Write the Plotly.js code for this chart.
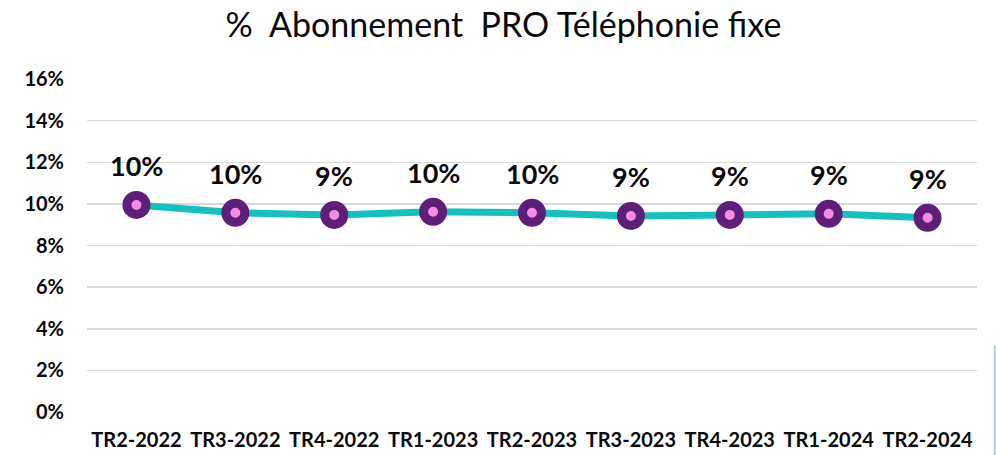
<!DOCTYPE html>
<html>
<head>
<meta charset="utf-8">
<script src="https://cdn.plot.ly/plotly-3.0.1.min.js"></script>
<style>html,body{margin:0;padding:0;background:#fff;}#chart{width:997px;height:455px;}</style>
</head>
<body>
<div id="chart"></div>
<script>
const categories = ["TR2-2022","TR3-2022","TR4-2022","TR1-2023","TR2-2023","TR3-2023","TR4-2023","TR1-2024","TR2-2024"];
const values = [9.95, 9.57, 9.47, 9.62, 9.57, 9.42, 9.47, 9.52, 9.33];
const valueLabels = ["10%","10%","9%","10%","10%","9%","9%","9%","9%"];
const yTickValues = [0,2,4,6,8,10,12,14,16];
const yTickLabels = ["0%","2%","4%","6%","8%","10%","12%","14%","16%"];

const fontFam = "Lato, 'Open Sans', sans-serif";

const trace = {
  x: categories,
  y: values,
  type: "scatter",
  mode: "lines+markers",
  line: {color: "#14C1BF", width: 7},
  marker: {size: 19, color: "#F58BE3", line: {color: "#5E1F79", width: 9}},
  cliponaxis: false,
  hoverinfo: "skip"
};

const annotations = categories.map((c, i) => ({
  x: c, y: values[i], xref: "x", yref: "y",
  text: valueLabels[i], showarrow: false,
  yanchor: "middle", xanchor: "center", yshift: 39,
  font: {family: fontFam, size: 27, color: "#0a0a0a", weight: 700}
}));

const layout = {
  width: 997, height: 455,
  margin: {l: 87, r: 20, t: 79, b: 43},
  paper_bgcolor: "#ffffff",
  plot_bgcolor: "#ffffff",
  showlegend: false,
  title: {text: "%  Abonnement  PRO Téléphonie fixe", x: 0.505, xanchor: "center", y: 0.945, yanchor: "middle",
          font: {family: fontFam, size: 34, color: "#0a0a0a"}},
  xaxis: {
    type: "category",
    range: [-0.5, 8.5],
    showgrid: false, zeroline: false, showline: false, ticks: "",
    tickfont: {family: fontFam, size: 20, color: "#0a0a0a", weight: 700},
    ticklabelstandoff: 14,
    fixedrange: true
  },
  yaxis: {
    range: [0, 16],
    tickvals: yTickValues, ticktext: yTickLabels,
    showgrid: true, gridcolor: "#d9d9d9", gridwidth: 1.5,
    zeroline: false, showline: false, ticks: "",
    tickfont: {family: fontFam, size: 20, color: "#0a0a0a", weight: 700},
    ticklabelstandoff: 22,
    fixedrange: true
  },
  annotations: annotations,
  shapes: [
    {type: "line", xref: "paper", yref: "paper", x0: 1.02, x1: 1.02, y0: -0.13, y1: 0.2,
     line: {color: "#9ED3F2", width: 2}}
  ]
};

Plotly.newPlot("chart", [trace], layout, {displayModeBar: false, staticPlot: true});
</script>
</body>
</html>
